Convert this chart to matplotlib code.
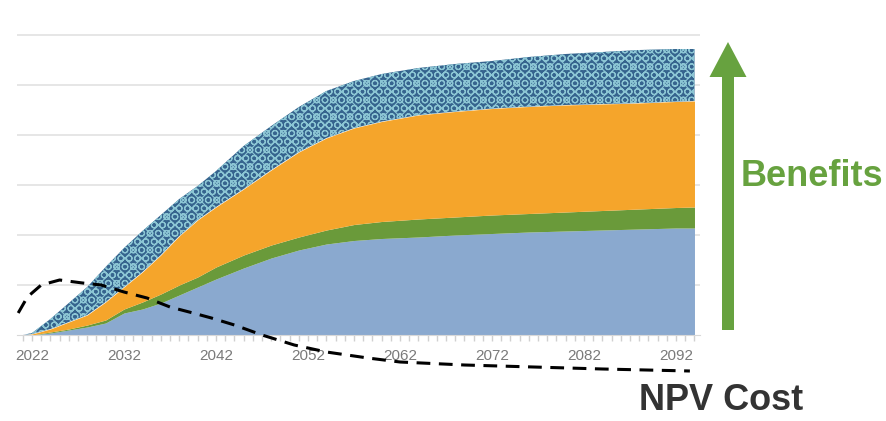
import numpy as np
import matplotlib.pyplot as plt
from matplotlib.patches import FancyArrow

# stacked tops (cumulative)
annees = [2021, 2022, 2024, 2026, 2028, 2030, 2032, 2034, 2036, 2038, 2040, 2042, 2045,
          2048, 2051, 2054, 2057, 2060, 2064, 2068, 2072, 2076, 2080, 2084, 2088, 2092, 2094]
haut_bleu = [0, 0, 0.04, 0.10, 0.16, 0.24, 0.44, 0.52, 0.64, 0.80, 0.96, 1.12, 1.34,
             1.54, 1.70, 1.82, 1.89, 1.93, 1.96, 2.00, 2.03, 2.06, 2.08, 2.10, 2.12, 2.14, 2.14]
haut_vert = [0, 0, 0.06, 0.12, 0.20, 0.30, 0.52, 0.66, 0.82, 1.00, 1.16, 1.36, 1.60,
             1.80, 1.96, 2.10, 2.21, 2.27, 2.32, 2.36, 2.40, 2.43, 2.46, 2.49, 2.52, 2.55, 2.56]
haut_orange = [0, 0.02, 0.12, 0.26, 0.40, 0.66, 0.96, 1.26, 1.60, 1.98, 2.30, 2.56, 2.92,
               3.30, 3.66, 3.94, 4.14, 4.27, 4.40, 4.47, 4.53, 4.57, 4.60, 4.62, 4.64, 4.67, 4.68]
haut_total = [0, 0.04, 0.32, 0.64, 0.96, 1.36, 1.74, 2.08, 2.40, 2.72, 2.98, 3.28, 3.78,
              4.18, 4.56, 4.88, 5.08, 5.22, 5.34, 5.42, 5.48, 5.56, 5.62, 5.66, 5.70, 5.72, 5.72]

# NPV cost curve (dashed)
annees_cout = [2020.5, 2021.5, 2023, 2025, 2027.5, 2029.5, 2032, 2034.5, 2037, 2039.5, 2041.5,
               2044, 2047, 2050.5, 2054, 2058.5, 2062, 2069, 2076.5, 2084, 2093.5]
cout = [0.44, 0.76, 1.00, 1.10, 1.04, 1.00, 0.86, 0.74, 0.56, 0.44, 0.34,
        0.20, 0.0, -0.20, -0.34, -0.46, -0.54, -0.60, -0.64, -0.68, -0.72]

ticks_annees = [2022, 2032, 2042, 2052, 2062, 2072, 2082, 2092]

plt.rcParams['font.family'] = ['Liberation Sans', 'DejaVu Sans']
plt.rcParams['hatch.linewidth'] = 0.8

fig = plt.figure(figsize=(8.87, 4.21), dpi=100)
W, H = 887, 421
ax = fig.add_axes([17 / W, (H - 335) / H, (700 - 17) / W, 310 / H])

zero = np.zeros(len(annees))
ax.fill_between(annees, zero, haut_bleu, color="#8aa9cf", lw=0, zorder=2)
ax.fill_between(annees, haut_bleu, haut_vert, color="#6a9a3a", lw=0, zorder=2)
ax.fill_between(annees, haut_vert, haut_orange, color="#f5a52b", lw=0, zorder=2)
ax.fill_between(annees, haut_orange, haut_total, facecolor="#36648e", edgecolor="#8cc6d4",
                hatch="xxOO", lw=0, zorder=2)

ax.plot(annees_cout, cout, color="black", lw=2.2, linestyle=(0, (4.5, 2.8)),
        clip_on=False, zorder=4)

ax.set_xlim(2020.37, 2094.6)
ax.set_ylim(0, 6.2)
ax.set_yticks([1, 2, 3, 4, 5, 6])
ax.yaxis.grid(True, color="#e6e6e6", lw=1.4, zorder=0)
ax.set_axisbelow(True)
ax.tick_params(axis="y", left=False, labelleft=False)

ax.set_xticks(ticks_annees)
ax.set_xticks(range(2021, 2095), minor=True)
ax.tick_params(axis="x", which="both", length=4, color="#d0d0d0", width=1,
               labelsize=11, labelcolor="#7a7a7a", pad=6)

for s in ["top", "right", "left"]:
    ax.spines[s].set_visible(False)
ax.spines["bottom"].set_color("#d8d8d8")

# overlay in pixel coords for arrow and labels
ov = fig.add_axes([0, 0, 1, 1])
ov.set_xlim(0, W)
ov.set_ylim(H, 0)
ov.axis("off")
ov.add_patch(FancyArrow(728, 330, 0, -288, width=12, head_width=37, head_length=35,
                        length_includes_head=True, color="#67a23f", lw=0))
ov.text(812, 176, "Benefits", color="#67a23f", fontsize=26, fontweight="bold",
        ha="center", va="center")
ov.text(721, 401, "NPV Cost", color="#333333", fontsize=26, fontweight="bold",
        ha="center", va="center")

fig.savefig("out.png", dpi=100)
